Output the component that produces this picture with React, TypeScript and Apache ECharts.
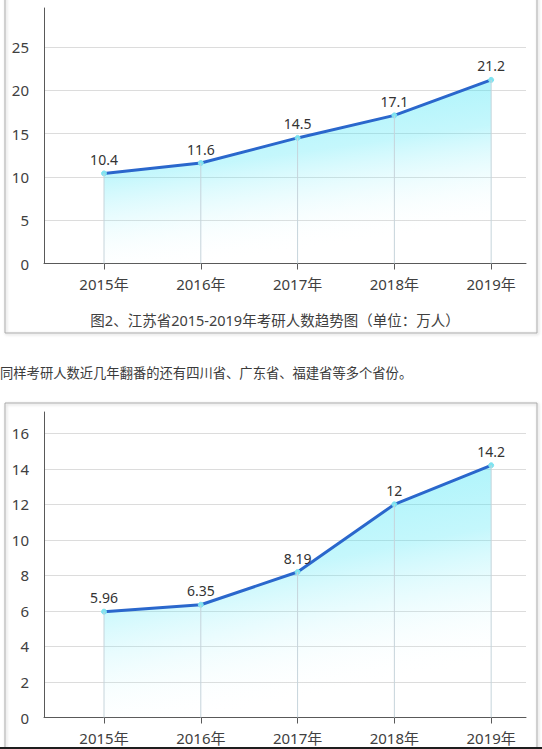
import { useEffect, useRef } from "react";
import * as echarts from "echarts";

const YEARS = [2015, 2016, 2017, 2018, 2019];
const JIANGSU_VALUES = [10.4, 11.6, 14.5, 17.1, 21.2];
const OTHER_VALUES = [5.96, 6.35, 8.19, 12, 14.2];
const CAPTION = "图2、江苏省2015-2019年考研人数趋势图（单位：万人）";
const NOTE = "同样考研人数近几年翻番的还有四川省、广东省、福建省等多个省份。";

const FONT = '"Noto Sans", "Noto Sans CJK SC", sans-serif';
const AXIS_COLOR = "#595959";
const TEXT_COLOR = "#404040";

function pairs(values: number[]) {
  return YEARS.map((year, i) => [year, values[i]]);
}

function xAxisFor(gridIndex: number) {
  return {
    type: "value",
    gridIndex,
    min: 2014.38,
    max: 2019.36,
    axisLine: { show: true, lineStyle: { color: AXIS_COLOR, width: 1 } },
    axisTick: {
      show: true,
      customValues: YEARS,
      length: 6,
      lineStyle: { color: AXIS_COLOR },
    },
    axisLabel: {
      customValues: YEARS,
      formatter: (v: number) => `${v}年`,
      fontSize: 15,
      color: TEXT_COLOR,
      fontFamily: FONT,
      margin: 13,
    },
    splitLine: { show: false },
  };
}

function yAxisFor(gridIndex: number, max: number, step: number) {
  return {
    type: "value",
    gridIndex,
    min: 0,
    max,
    interval: step,
    axisLine: { show: true, lineStyle: { color: AXIS_COLOR, width: 1 } },
    axisTick: { show: false },
    axisLabel: {
      fontSize: 15,
      color: TEXT_COLOR,
      fontFamily: FONT,
      margin: 15,
      formatter: (v: number) => (Number.isInteger(v / step) ? String(v) : ""),
    },
    splitLine: {
      show: true,
      showMaxLine: false,
      lineStyle: { color: "#dcdcdc", width: 1 },
    },
  };
}

function seriesFor(gridIndex: number, values: number[]) {
  return [
    {
      type: "bar",
      xAxisIndex: gridIndex,
      yAxisIndex: gridIndex,
      data: pairs(values),
      barWidth: 1,
      itemStyle: { color: "#c6d4db" },
      z: 3,
      silent: true,
    },
    {
      type: "line",
      xAxisIndex: gridIndex,
      yAxisIndex: gridIndex,
      data: pairs(values),
      symbol: "circle",
      symbolSize: 5,
      showAllSymbol: true,
      itemStyle: { color: "#7fe3f0", borderColor: "#7fe3f0" },
      lineStyle: { color: "#2a67cc", width: 3 },
      areaStyle: {
        color: new echarts.graphic.LinearGradient(0, 0, 0.3, 1, [
          { offset: 0, color: "rgba(50, 228, 245, 0.72)" },
          { offset: 0.5, color: "rgba(70, 230, 246, 0.45)" },
          { offset: 1, color: "rgba(255, 255, 255, 0)" },
        ]),
      },
      label: {
        show: true,
        position: "top",
        distance: 4,
        fontSize: 14,
        color: "#333333",
        fontFamily: FONT,
        formatter: (p: { value: number[] }) => String(p.value[1]),
      },
      z: 2,
    },
  ];
}

export default function App() {
  const ref = useRef<HTMLDivElement | null>(null);

  useEffect(() => {
    const el = ref.current;
    if (!el) {
      return;
    }
    const chart = echarts.init(el, null, { renderer: "svg" });

    chart.setOption({
      animation: false,
      backgroundColor: "#ffffff",
      textStyle: { fontFamily: FONT },
      grid: [
        { left: 44, top: 8, width: 482, height: 255.5, outerBoundsMode: "none" },
        { left: 44, top: 412, width: 482, height: 305.5, outerBoundsMode: "none" },
      ],
      xAxis: [xAxisFor(0), xAxisFor(1)],
      yAxis: [yAxisFor(0, 29.5, 5), yAxisFor(1, 17.2, 2)],
      series: [...seriesFor(0, JIANGSU_VALUES), ...seriesFor(1, OTHER_VALUES)],
      graphic: [
        {
          type: "rect",
          shape: { x: 5, y: -20, width: 532, height: 353 },
          style: {
            fill: "none",
            stroke: "#a9a9a9",
            lineWidth: 1,
            shadowBlur: 3,
            shadowColor: "rgba(0,0,0,0.25)",
            shadowOffsetX: 1,
            shadowOffsetY: 1,
          },
          z: -1,
        },
        {
          type: "text",
          x: 275,
          y: 320,
          style: {
            text: CAPTION,
            fontSize: 14.5,
            fill: TEXT_COLOR,
            fontFamily: FONT,
            align: "center",
            verticalAlign: "middle",
          },
        },
        {
          type: "text",
          x: 0,
          y: 373,
          style: {
            text: NOTE,
            fontSize: 13.3,
            fill: "#3a3a3a",
            fontFamily: FONT,
            align: "left",
            verticalAlign: "middle",
          },
        },
        {
          type: "rect",
          shape: { x: 5, y: 403, width: 532, height: 380 },
          style: {
            fill: "none",
            stroke: "#a9a9a9",
            lineWidth: 1,
            shadowBlur: 3,
            shadowColor: "rgba(0,0,0,0.25)",
            shadowOffsetX: 1,
            shadowOffsetY: 1,
          },
          z: -1,
        },
        {
          type: "rect",
          shape: { x: 0, y: 747, width: 542, height: 2 },
          style: { fill: "#1e1e1e" },
        },
      ],
    });

    return () => {
      chart.dispose();
    };
  }, []);

  return (
    <div
      ref={ref}
      style={{ position: "fixed", left: 0, top: 0, width: 542, height: 749 }}
    />
  );
}
